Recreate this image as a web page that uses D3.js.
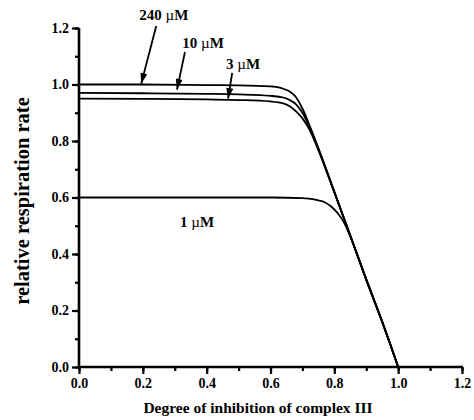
<!DOCTYPE html>
<html>
<head>
<meta charset="utf-8">
<script src="https://cdn.jsdelivr.net/npm/d3@7"></script>
<style>
  html, body { margin: 0; padding: 0; background: #fff; }
  svg { display: block; }
  text { font-family: "Liberation Serif", "Times New Roman", serif; font-weight: bold; fill: #000; }
</style>
</head>
<body>
<svg id="chart" width="474" height="420"></svg>
<script>
// ---- data ----
const seriesNames = ["240 \u00B5M", "10 \u00B5M", "3 \u00B5M", "1 \u00B5M"];
const x240 = [0, 0.2, 0.4, 0.5, 0.6, 0.64, 0.66, 0.68, 0.70, 0.72, 0.75, 0.8, 0.85, 0.9, 0.95, 0.98, 1.0];
const y240 = [1.0, 1.0, 0.998, 0.997, 0.993, 0.985, 0.975, 0.955, 0.915, 0.862, 0.775, 0.62, 0.465, 0.31, 0.16, 0.065, 0];
const x10 = [0, 0.2, 0.4, 0.5, 0.6, 0.64, 0.66, 0.68, 0.70, 0.72, 0.75, 0.8, 0.85, 0.9, 0.95, 0.98, 1.0];
const y10 = [0.97, 0.969, 0.967, 0.965, 0.96, 0.954, 0.945, 0.93, 0.9, 0.855, 0.772, 0.62, 0.465, 0.31, 0.16, 0.065, 0];
const x3 = [0, 0.2, 0.4, 0.5, 0.6, 0.64, 0.66, 0.68, 0.70, 0.72, 0.75, 0.8, 0.85, 0.9, 0.95, 0.98, 1.0];
const y3 = [0.95, 0.949, 0.947, 0.945, 0.94, 0.933, 0.923, 0.905, 0.88, 0.845, 0.768, 0.618, 0.465, 0.31, 0.16, 0.065, 0];
const x1 = [0, 0.2, 0.4, 0.6, 0.7, 0.72, 0.75, 0.77, 0.79, 0.81, 0.83, 0.85, 0.9, 0.95, 0.98, 1.0];
const y1 = [0.6, 0.6, 0.6, 0.6, 0.598, 0.596, 0.59, 0.583, 0.568, 0.545, 0.512, 0.462, 0.308, 0.16, 0.065, 0];
const xTicks = [0.0, 0.2, 0.4, 0.6, 0.8, 1.0, 1.2];
const yTicks = [0.0, 0.2, 0.4, 0.6, 0.8, 1.0, 1.2];
// label anchors (data coords, text baseline centre) and arrows (data coords)
const labelPos = [[0.266, 1.228], [0.389, 1.129], [0.514, 1.055], [0.37, 0.496]];
const arrowFrom = [[0.242, 1.207], [0.332, 1.115], [0.480, 1.041], null];
const arrowTo = [[0.195, 1.003], [0.307, 0.982], [0.467, 0.950], null];

const xs = [x240, x10, x3, x1];
const ys = [y240, y10, y3, y1];

// ---- layout ----
const svg = d3.select("#chart");
const x = d3.scaleLinear().domain([0, 1.2]).range([79, 462]);
const y = d3.scaleLinear().domain([0, 1.2]).range([367, 28]);

svg.append("defs").append("marker")
  .attr("id", "ah").attr("viewBox", "0 0 12 8").attr("refX", 12).attr("refY", 4)
  .attr("markerWidth", 12).attr("markerHeight", 7).attr("markerUnits", "userSpaceOnUse")
  .attr("orient", "auto")
  .append("path").attr("d", "M0,0 L12,4 L0,8 Z").attr("fill", "#000");

const minorX = d3.range(0, 1.21, 0.1).map(v => +v.toFixed(2));
const minorY = d3.range(0, 1.21, 0.1).map(v => +v.toFixed(2));

function styleTicks(g) {
  g.selectAll(".tick line").attr("stroke-width", 2.2);
  g.selectAll(".tick text").attr("font-size", 14)
    .style("font-family", "'Liberation Serif', serif").style("font-weight", "bold");
  g.select(".domain").remove();
}

const gx = svg.append("g").attr("transform", `translate(0,${y(0)})`)
  .call(d3.axisBottom(x).tickValues(minorX).tickSize(4).tickFormat(""));
styleTicks(gx);
const gx2 = svg.append("g").attr("transform", `translate(0,${y(0)})`)
  .call(d3.axisBottom(x).tickValues(xTicks).tickSize(7).tickPadding(4).tickFormat(d3.format(".1f")));
styleTicks(gx2);

const gy = svg.append("g").attr("transform", `translate(${x(0)},0)`)
  .call(d3.axisLeft(y).tickValues(minorY).tickSize(4).tickFormat(""));
styleTicks(gy);
const gy2 = svg.append("g").attr("transform", `translate(${x(0)},0)`)
  .call(d3.axisLeft(y).tickValues(yTicks).tickSize(7).tickPadding(3).tickFormat(d3.format(".1f")));
styleTicks(gy2);

// axis lines
svg.append("line").attr("x1", x(0)).attr("x2", x(1.2) + 1).attr("y1", y(0)).attr("y2", y(0))
  .attr("stroke", "#000").attr("stroke-width", 2.6);
svg.append("line").attr("x1", x(0)).attr("x2", x(0)).attr("y1", y(0) + 1).attr("y2", y(1.2))
  .attr("stroke", "#000").attr("stroke-width", 2.6);

// curves
const line = d3.line().x(d => x(d[0])).y(d => y(d[1])).curve(d3.curveMonotoneX);
xs.forEach((xa, i) => {
  const pts = xa.map((v, j) => [v, ys[i][j]]);
  svg.append("path").attr("d", line(pts)).attr("fill", "none")
    .attr("stroke", "#000").attr("stroke-width", 1.8);
});

// labels and arrows
seriesNames.forEach((name, i) => {
  const [lx, ly] = labelPos[i];
  const t = svg.append("text").attr("x", x(lx)).attr("y", y(ly))
    .attr("text-anchor", "middle").attr("font-size", 15);
  const parts = name.split(" ");
  t.append("tspan").text(parts[0] + " ");
  t.append("tspan").text(parts[1][0]).style("font-weight", "normal");
  t.append("tspan").text(parts[1].slice(1));
  if (arrowFrom[i]) {
    svg.append("line")
      .attr("x1", x(arrowFrom[i][0])).attr("y1", y(arrowFrom[i][1]))
      .attr("x2", x(arrowTo[i][0])).attr("y2", y(arrowTo[i][1]))
      .attr("stroke", "#000").attr("stroke-width", 1.8).attr("marker-end", "url(#ah)");
  }
});

// axis titles
svg.append("text").attr("x", 258).attr("y", 413).attr("text-anchor", "middle")
  .attr("font-size", 15.5).text("Degree of inhibition of complex III");
svg.append("text").attr("transform", `translate(29,201) rotate(-90)`).attr("text-anchor", "middle")
  .attr("font-size", 20.5).text("relative respiration rate");
</script>
</body>
</html>
